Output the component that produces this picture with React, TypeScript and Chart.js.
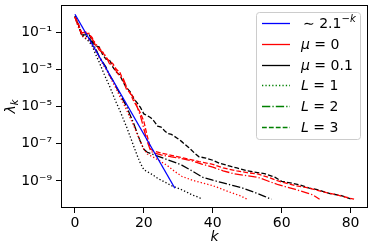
import React, { useEffect, useRef } from 'react';
import { Chart, registerables } from 'chart.js';

Chart.register(...registerables);

// ---- data ----
const kFit = [0, 29];
const lamFit = [0.9, 4.1e-10];

const kRedL1 = [0,1,2,3,4,5,6,7,8,9,10,11,12,13,14,15,16,17,18,19,20,21,23,25,27,29,31,34,37,40,43,45,48,50];
const lamRedL1 = [0.63,0.18,6.3e-2,5.0e-2,4.0e-2,2.0e-2,1.0e-2,4.5e-3,2.0e-3,1.0e-3,4.5e-4,2.0e-4,8.9e-5,3.5e-5,1.6e-5,6.3e-6,2.5e-6,1.0e-6,3.5e-7,1.3e-7,5.0e-8,2.8e-8,1.8e-8,1.1e-8,6.3e-9,3.2e-9,1.8e-9,1.1e-9,7.9e-10,5.6e-10,3.5e-10,2.5e-10,1.6e-10,1.05e-10];

const kRedL2 = [0,1,2,3,4,5,6,7,8,9,10,11,12,13,14,15,16,17,18,19,20,21,22,23,25,28,31,34,37,40,43,46,50,53,56,59,61,64,67,69,71];
const lamRedL2 = [0.63,0.2,8.9e-2,0.1,8.9e-2,4.0e-2,2.5e-2,1.1e-2,7.9e-3,5.0e-3,2.0e-3,1.6e-3,7.9e-4,4.0e-4,3.2e-4,1.1e-4,5.0e-5,3.2e-5,1.0e-5,3.2e-6,6.3e-7,1.3e-7,4.0e-8,3.2e-8,2.5e-8,2.0e-8,1.6e-8,1.2e-8,7.9e-9,5.6e-9,3.5e-9,2.5e-9,1.9e-9,1.6e-9,1.0e-9,6.3e-10,5.0e-10,3.5e-10,2.4e-10,1.8e-10,1.05e-10];

const kRedL3 = [0,1,2,3,4,5,6,7,8,9,10,11,12,13,14,15,16,17,18,19,20,21,22,23,25,28,30,33,36,40,43,47,50,53,56,59,61,64,67,70,73,76,79,81];
const lamRedL3 = [0.63,0.28,7.9e-2,8.9e-2,7.9e-2,5.0e-2,1.8e-2,1.4e-2,8.9e-3,4.0e-3,2.8e-3,2.0e-3,1.0e-3,7.1e-4,2.5e-4,7.9e-5,5.6e-5,2.0e-5,1.0e-5,4.5e-6,1.6e-6,2.5e-7,5.0e-8,4.0e-8,3.2e-8,2.4e-8,2.0e-8,1.5e-8,1.1e-8,7.9e-9,5.0e-9,3.5e-9,2.8e-9,2.4e-9,1.6e-9,1.0e-9,7.9e-10,5.6e-10,4.5e-10,3.3e-10,2.4e-10,1.8e-10,1.3e-10,1.05e-10];

const kBlackL1 = [0,1,2,3,4,5,6,7,8,9,10,11,12,13,14,15,16,17,18,19,20,22,24,26,28,30,32,34,36,37];
const lamBlackL1 = [0.63,0.2,6.3e-2,4.5e-2,3.2e-2,1.8e-2,6.3e-3,2.5e-3,8.9e-4,3.2e-4,1.3e-4,4.5e-5,1.6e-5,6.3e-6,2.2e-6,7.9e-7,2.5e-7,7.9e-8,2.5e-8,8.9e-9,4.0e-9,2.5e-9,1.4e-9,8.9e-10,5.6e-10,4.0e-10,2.8e-10,1.8e-10,1.3e-10,1.05e-10];

const kBlackL2 = [0,1,2,3,4,5,6,7,8,9,10,11,12,13,14,15,16,17,18,19,20,21,23,26,29,31,34,37,40,43,46,49,52,55,57];
const lamBlackL2 = [0.71,0.22,7.1e-2,6.3e-2,5.0e-2,2.8e-2,1.3e-2,5.0e-3,2.5e-3,1.3e-3,5.0e-4,2.5e-4,1.1e-4,5.0e-5,2.2e-5,1.0e-5,3.5e-6,1.3e-6,4.0e-7,1.3e-7,5.0e-8,3.5e-8,2.5e-8,1.6e-8,1.0e-8,7.1e-9,3.5e-9,1.6e-9,1.1e-9,7.9e-10,5.6e-10,4.0e-10,2.5e-10,1.5e-10,1.05e-10];

const kBlackL3 = [0,1,2,3,4,5,6,7,8,9,10,11,12,13,14,15,16,17,18,19,20,21,22,23,24,25,26,27,28,30,31,33,35,36,38,40,42,45,47,50,55,58,60,63,65,68,71,74,77,80];
const lamBlackL3 = [0.71,0.25,7.1e-2,7.1e-2,7.9e-2,3.5e-2,1.8e-2,1.6e-2,6.3e-3,3.5e-3,3.2e-3,1.3e-3,7.1e-4,5.0e-4,2.0e-4,1.0e-4,6.3e-5,2.8e-5,1.6e-5,8.9e-6,4.0e-6,3.2e-6,2.5e-6,1.6e-6,8.9e-7,7.9e-7,5.0e-7,3.5e-7,3.2e-7,1.8e-7,1.3e-7,6.3e-8,2.8e-8,2.0e-8,1.7e-8,1.3e-8,8.9e-9,6.3e-9,5.0e-9,3.5e-9,2.5e-9,1.6e-9,9.5e-10,7.6e-10,6.3e-10,4.2e-10,3.2e-10,2.1e-10,1.7e-10,1.1e-10];

const xTicks = [0, 20, 40, 60, 80];
const yTickValues = [1e-9, 1e-7, 1e-5, 1e-3, 1e-1];
const yTickLabels = ['10⁻⁹', '10⁻⁷', '10⁻⁵', '10⁻³', '10⁻¹'];
const xAxisLabel = 'k';
const yAxisLabelMain = 'λ';
const yAxisLabelSub = 'k';

// legend text runs: [text, italic, superscript]
const legendTexts: [string, boolean, boolean][][] = [
  [['∼ 2.1', false, false], ['−', false, true], ['k', true, true]],
  [['μ', true, false], [' = 0', false, false]],
  [['μ', true, false], [' = 0.1', false, false]],
  [['L', true, false], [' = 1', false, false]],
  [['L', true, false], [' = 2', false, false]],
  [['L', true, false], [' = 3', false, false]],
];

// ---- styles ----
const FONT = "'DejaVu Sans', sans-serif";
const LW = 1.3;
const DOT = [1.3, 2.1];
const DASHDOT = [8.3, 2.1, 1.3, 2.1];
const DASH = [4.8, 2.1];
const legendStyles = [
  { color: '#0000ff', dash: [] as number[] },
  { color: '#ff0000', dash: [] as number[] },
  { color: '#000000', dash: [] as number[] },
  { color: '#008000', dash: DOT },
  { color: '#008000', dash: DASHDOT },
  { color: '#008000', dash: DASH },
];

function pts(ks: number[], ls: number[]) {
  const n = Math.min(ks.length, ls.length);
  const out: { x: number; y: number }[] = [];
  for (let i = 0; i < n; i++) out.push({ x: ks[i], y: ls[i] });
  return out;
}

function ds(ks: number[], ls: number[], color: string, dash: number[]) {
  return {
    data: pts(ks, ls),
    borderColor: color,
    borderWidth: LW,
    borderDash: dash,
    pointRadius: 0,
    tension: 0,
    fill: false,
  };
}

function drawRuns(ctx: CanvasRenderingContext2D, runs: [string, boolean, boolean][], x: number, yc: number, size: number) {
  let cx = x;
  const base = yc + size * 0.36;
  for (const [t, it, sup] of runs) {
    const s = sup ? size * 0.72 : size;
    ctx.font = `${it ? 'italic ' : ''}${s}px ${FONT}`;
    ctx.textBaseline = 'alphabetic';
    ctx.textAlign = 'left';
    ctx.fillText(t, cx, sup ? base - size * 0.45 : base);
    cx += ctx.measureText(t).width;
  }
}

const decorPlugin = {
  id: 'decor',
  afterDraw(chart: any) {
    const ctx: CanvasRenderingContext2D = chart.ctx;
    const a = chart.chartArea;
    ctx.save();
    // frame
    ctx.strokeStyle = '#000';
    ctx.lineWidth = 1;
    ctx.setLineDash([]);
    ctx.strokeRect(a.left + 0.5, a.top + 0.5, a.right - a.left - 1, a.bottom - a.top - 1);

    // x axis title
    ctx.fillStyle = '#000';
    ctx.font = `italic 14px ${FONT}`;
    ctx.textAlign = 'center';
    ctx.textBaseline = 'alphabetic';
    ctx.fillText(xAxisLabel, (a.left + a.right) / 2, 241);

    // y axis title (rotated)
    ctx.save();
    ctx.translate(15, (a.top + a.bottom) / 2);
    ctx.rotate(-Math.PI / 2);
    ctx.font = `italic 14px ${FONT}`;
    const w1 = ctx.measureText(yAxisLabelMain).width;
    ctx.font = `italic 10px ${FONT}`;
    const w2 = ctx.measureText(yAxisLabelSub).width;
    const start = -(w1 + w2) / 2;
    ctx.textAlign = 'left';
    ctx.font = `italic 14px ${FONT}`;
    ctx.fillText(yAxisLabelMain, start, 0);
    ctx.font = `italic 10px ${FONT}`;
    ctx.fillText(yAxisLabelSub, start + w1, 3);
    ctx.restore();

    // legend
    const bx = 256.5, by = 12.5, bw = 104, bh = 127, r = 3;
    ctx.beginPath();
    ctx.moveTo(bx + r, by);
    ctx.lineTo(bx + bw - r, by);
    ctx.arcTo(bx + bw, by, bx + bw, by + r, r);
    ctx.lineTo(bx + bw, by + bh - r);
    ctx.arcTo(bx + bw, by + bh, bx + bw - r, by + bh, r);
    ctx.lineTo(bx + r, by + bh);
    ctx.arcTo(bx, by + bh, bx, by + bh - r, r);
    ctx.lineTo(bx, by + r);
    ctx.arcTo(bx, by, bx + r, by, r);
    ctx.closePath();
    ctx.fillStyle = 'rgba(255,255,255,0.8)';
    ctx.fill();
    ctx.strokeStyle = '#cccccc';
    ctx.lineWidth = 1;
    ctx.stroke();

    const rowY0 = 23;
    const rowStep = 20.8;
    for (let i = 0; i < legendTexts.length; i++) {
      const y = rowY0 + i * rowStep;
      const st = legendStyles[i];
      ctx.beginPath();
      ctx.strokeStyle = st.color;
      ctx.lineWidth = LW;
      ctx.setLineDash(st.dash);
      ctx.moveTo(262, Math.round(y) + 0.5);
      ctx.lineTo(290, Math.round(y) + 0.5);
      ctx.stroke();
      ctx.setLineDash([]);
      ctx.fillStyle = '#000';
      drawRuns(ctx, legendTexts[i], i === 0 ? 303 : 301, y, 14);
    }
    ctx.restore();
  },
};

function zeroPad(s: any) {
  s.paddingTop = 0;
  s.paddingBottom = 0;
  s.paddingLeft = 0;
  s.paddingRight = 0;
}

export default function App() {
  const ref = useRef<HTMLCanvasElement | null>(null);
  useEffect(() => {
    if (!ref.current) return;
    const chart = new Chart(ref.current, {
      type: 'line',
      data: {
        datasets: [
          ds(kFit, lamFit, '#0000ff', []),
          ds(kRedL1, lamRedL1, '#ff0000', DOT),
          ds(kRedL2, lamRedL2, '#ff0000', DASHDOT),
          ds(kRedL3, lamRedL3, '#ff0000', DASH),
          ds(kBlackL1, lamBlackL1, '#000000', DOT),
          ds(kBlackL2, lamBlackL2, '#000000', DASHDOT),
          ds(kBlackL3, lamBlackL3, '#000000', DASH),
        ] as any,
      },
      options: {
        animation: false,
        responsive: false,
        devicePixelRatio: 1,
        layout: { padding: { left: 0, right: 6, top: 5, bottom: 0 } },
        plugins: { legend: { display: false }, tooltip: { enabled: false } },
        scales: {
          x: {
            type: 'linear',
            min: -4.05,
            max: 85.05,
            afterBuildTicks: (s: any) => { s.ticks = xTicks.map((v) => ({ value: v })); },
            afterFit: (s: any) => { s.height = 42; zeroPad(s); },
            grid: { display: true, drawOnChartArea: false, drawTicks: true, tickLength: 5, color: '#000', lineWidth: 1 },
            border: { display: false },
            ticks: { color: '#000', font: { family: FONT, size: 14 }, padding: 2, autoSkip: false, maxRotation: 0 },
          },
          y: {
            type: 'logarithmic',
            min: 3.55e-11,
            max: 2.82,
            afterBuildTicks: (s: any) => { s.ticks = yTickValues.map((v) => ({ value: v })); },
            afterFit: (s: any) => { s.width = 61; zeroPad(s); },
            grid: { display: true, drawOnChartArea: false, drawTicks: true, tickLength: 5, color: '#000', lineWidth: 1 },
            border: { display: false },
            ticks: {
              color: '#000',
              font: { family: FONT, size: 14 },
              padding: 4,
              autoSkip: false,
              callback: (v: any) => {
                const i = yTickValues.indexOf(Number(v));
                return i >= 0 ? yTickLabels[i] : '';
              },
            },
          },
        },
      },
      plugins: [decorPlugin],
    } as any);
    return () => chart.destroy();
  }, []);
  return (
    <div style={{ position: 'absolute', left: 0, top: 0, width: 374, height: 250, background: '#fff' }}>
      <canvas ref={ref} width={374} height={250} />
    </div>
  );
}
